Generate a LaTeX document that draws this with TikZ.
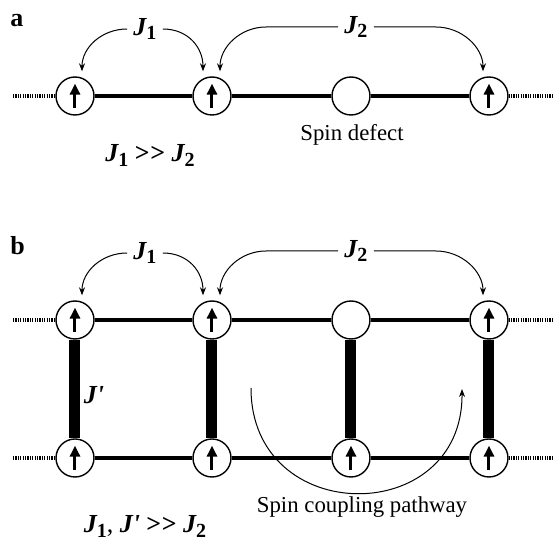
\documentclass[tikz,border=0pt]{standalone}
\usepackage{fontspec}
\setmainfont{Liberation Serif}
\usetikzlibrary{arrows.meta}
\newcommand{\Jc}[1]{{\bfseries\itshape J}\raisebox{-2.4pt}{\fontsize{10}{12}\selectfont\bfseries #1}}
\newcommand{\Jp}{{\bfseries\itshape J\textquotesingle}}
\newcommand{\muchgt}{{\bfseries\textgreater\kern0.3pt\textgreater}}

\tikzset{
  spin/.style={circle, draw, line width=0.7pt, fill=white, minimum size=19pt, inner sep=0pt},
  spinup/.style={spin, path picture={
      \draw[line width=1.5pt, -{Triangle[length=5.5pt,width=5pt]}]
        ([yshift=-6pt]path picture bounding box.center) --
        ([yshift=6.2pt]path picture bounding box.center);}},
  bond/.style={line width=1.7pt},
  rung/.style={line width=5.5pt},
  chainend/.style={line width=1.6pt, dash pattern=on 0.6pt off 0.6pt},
  coupling/.style={line width=0.5pt, -{Stealth[length=4pt,width=3pt]}},
  jlabel/.style={font=\fontsize{13}{15}\selectfont, inner sep=3pt},
  txt/.style={font=\fontsize{11.4}{13}\selectfont, inner sep=0pt},
  panel/.style={font=\fontsize{13}{15}\selectfont\bfseries, inner sep=0pt, anchor=base west}
}

\begin{document}
\begin{tikzpicture}[x=0.5pt, y=-0.5pt]
  \useasboundingbox (0,0) rectangle (554,540);

  % =============================================
  % PANEL a: single chain with a spin defect
  % =============================================
  \node[panel] (pa) at (10,27) {a};

  \node[spinup] (a1) at (75,96) {};
  \node[spinup] (a2) at (212,96) {};
  \node[spin]   (a3) at (351,96) {};
  \node[spinup] (a4) at (489,96) {};
  \coordinate (aL) at (13,96);
  \coordinate (aR) at (552,96);

  \draw[chainend] (aL) -- (a1);
  \draw[chainend] (a4) -- (aR);
  \draw[bond] (a1) -- (a2);
  \draw[bond] (a2) -- (a3);
  \draw[bond] (a3) -- (a4);

  % couplings
  \node[jlabel] (J1a) at (145,29) {\Jc{1}};
  \node[jlabel] (J2a) at (356,27) {\Jc{2}};
  \draw[coupling] (J1a.west) .. controls +(-25,0) and +(0,-24) .. ([xshift=3.5pt,yshift=2.5pt]a1.north);
  \draw[coupling] (J1a.east) .. controls +(25,0) and +(0,-24) .. ([xshift=-4.5pt,yshift=2.5pt]a2.north);
  \draw[coupling] (J2a.west) -- ++(-72,0)
    .. controls +(-26,0) and +(0,-24) .. ([xshift=4pt,yshift=2.5pt]a2.north);
  \draw[coupling] (J2a.east) -- ++(62,0)
    .. controls +(26,0) and +(0,-24) .. ([xshift=-3pt,yshift=2.5pt]a4.north);

  \node[txt, anchor=base] (defect) at (352,141) {Spin defect};
  \node[jlabel, inner sep=0pt, anchor=base] (cmpa) at (150,162) {\Jc{1} \muchgt{} \Jc{2}};

  % =============================================
  % PANEL b: ladder, pathway through the rungs
  % =============================================
  \node[panel] (pb) at (10,255) {b};

  \foreach \i/\x in {1/75,2/212,4/489} {
    \node[spinup] (t\i) at (\x,320) {};
  }
  \node[spin] (t3) at (351,320) {};
  \foreach \i/\x in {1/75,2/212,3/351,4/489} {
    \node[spinup] (u\i) at (\x,458) {};
  }
  \coordinate (tL) at (13,320);
  \coordinate (tR) at (552,320);
  \coordinate (uL) at (13,458);
  \coordinate (uR) at (552,458);

  \draw[chainend] (tL) -- (t1);
  \draw[chainend] (t4) -- (tR);
  \draw[chainend] (uL) -- (u1);
  \draw[chainend] (u4) -- (uR);
  \foreach \a/\b in {1/2,2/3,3/4} {
    \draw[bond] (t\a) -- (t\b);
    \draw[bond] (u\a) -- (u\b);
  }
  \foreach \i in {1,...,4} {
    \draw[rung] (t\i) -- (u\i);
  }

  % couplings
  \node[jlabel] (J1b) at (145,253) {\Jc{1}};
  \node[jlabel] (J2b) at (356,251) {\Jc{2}};
  \draw[coupling] (J1b.west) .. controls +(-25,0) and +(0,-24) .. ([xshift=3.5pt,yshift=2.5pt]t1.north);
  \draw[coupling] (J1b.east) .. controls +(25,0) and +(0,-24) .. ([xshift=-4.5pt,yshift=2.5pt]t2.north);
  \draw[coupling] (J2b.west) -- ++(-72,0)
    .. controls +(-26,0) and +(0,-24) .. ([xshift=4pt,yshift=2.5pt]t2.north);
  \draw[coupling] (J2b.east) -- ++(62,0)
    .. controls +(26,0) and +(0,-24) .. ([xshift=-3pt,yshift=2.5pt]t4.north);

  \node[jlabel, inner sep=0pt] (Jpr) at (94,395) {\Jp};

  % spin coupling pathway
  \coordinate (pw0) at (251,388);
  \coordinate (pw1) at (462,389);
  \draw[coupling] (pw0) .. controls (251,528) and (463,528) .. (pw1);

  \node[txt, anchor=base] (pathway) at (362,513) {Spin coupling pathway};
  \node[jlabel, inner sep=0pt, anchor=base] (cmpb) at (145,533) {\Jc{1}, \Jp{} \muchgt{} \Jc{2}};

\end{tikzpicture}
\end{document}
